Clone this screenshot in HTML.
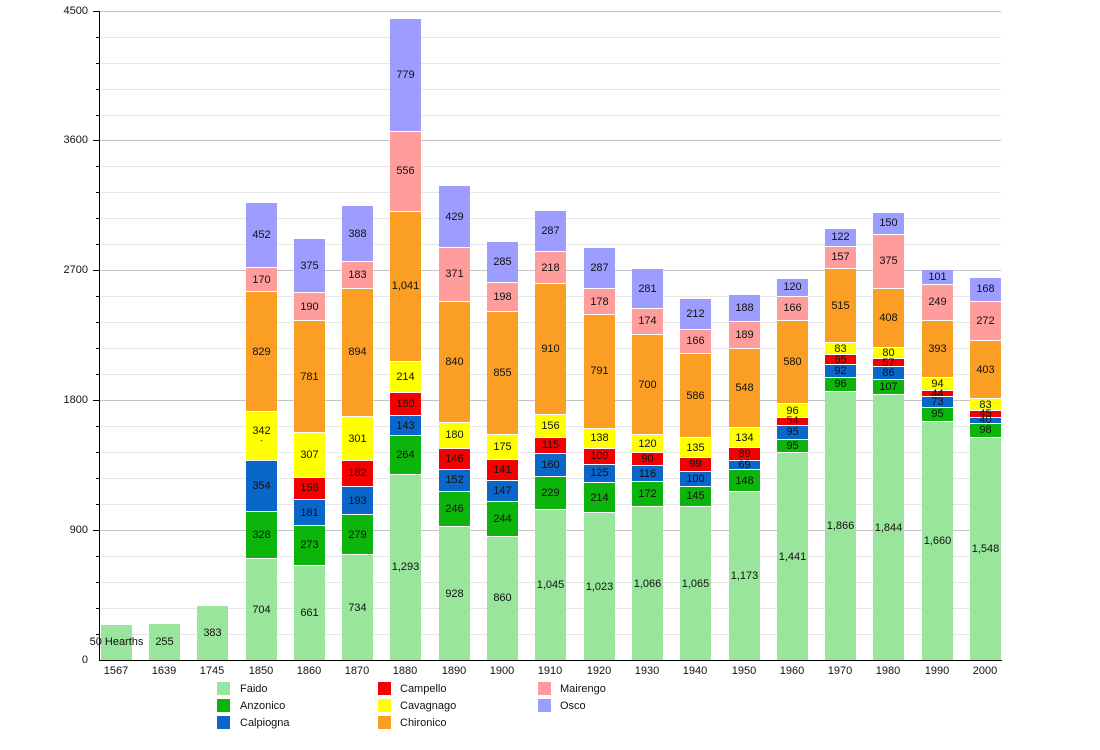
<!DOCTYPE html>
<html><head><meta charset="utf-8"><style>
html,body{margin:0;padding:0;background:#fff}
body{width:1100px;height:750px;position:relative;overflow:hidden;font-family:"Liberation Sans",Arial,sans-serif;font-size:11px;color:#111}
.g{position:absolute;left:100px;width:901px;height:1px;background:#e6e6e6}
.g.m{background:#c4c4c4}
.t{position:absolute;left:96px;width:4px;height:1px;background:#000}
.yl{position:absolute;right:1012px;width:60px;text-align:right;line-height:12px}
.bar{position:absolute;bottom:90px;width:31px;display:flex;flex-direction:column-reverse;--k:0.144222px}
.bar div{box-sizing:border-box;border-top:1px solid #fff;display:flex;align-items:center;justify-content:center;white-space:nowrap;overflow:visible;line-height:10px;min-height:0}
.F{background:#99e59b}.A{background:#0cb40c}.C{background:#0a66c8}.P{background:#f40000}.Y{background:#ffff00}.H{background:#fb9e24}.M{background:#ff9d9d}.O{background:#9d9dff}
.xl{position:absolute;top:665px;width:40px;text-align:center}
.sw{position:absolute;width:13px;height:13px}
.lt{position:absolute;line-height:13px}
</style></head><body>
<!-- gridlines -->
<div class="g m" style="top:11px"></div>
<div class="g" style="top:37px"></div><div class="g" style="top:63px"></div><div class="g" style="top:89px"></div><div class="g" style="top:115px"></div>
<div class="g m" style="top:140px"></div>
<div class="g" style="top:166px"></div><div class="g" style="top:192px"></div><div class="g" style="top:218px"></div><div class="g" style="top:244px"></div>
<div class="g m" style="top:270px"></div>
<div class="g" style="top:296px"></div><div class="g" style="top:322px"></div><div class="g" style="top:348px"></div><div class="g" style="top:374px"></div>
<div class="g m" style="top:400px"></div>
<div class="g" style="top:426px"></div><div class="g" style="top:452px"></div><div class="g" style="top:478px"></div><div class="g" style="top:504px"></div>
<div class="g m" style="top:530px"></div>
<div class="g" style="top:556px"></div><div class="g" style="top:582px"></div><div class="g" style="top:608px"></div><div class="g" style="top:634px"></div>
<!-- ticks -->
<div class="t" style="top:11px;left:93px;width:7px"></div><div class="t" style="top:37px"></div><div class="t" style="top:63px"></div><div class="t" style="top:89px"></div><div class="t" style="top:115px"></div>
<div class="t" style="top:140px;left:93px;width:7px"></div><div class="t" style="top:166px"></div><div class="t" style="top:192px"></div><div class="t" style="top:218px"></div><div class="t" style="top:244px"></div>
<div class="t" style="top:270px;left:93px;width:7px"></div><div class="t" style="top:296px"></div><div class="t" style="top:322px"></div><div class="t" style="top:348px"></div><div class="t" style="top:374px"></div>
<div class="t" style="top:400px;left:93px;width:7px"></div><div class="t" style="top:426px"></div><div class="t" style="top:452px"></div><div class="t" style="top:478px"></div><div class="t" style="top:504px"></div>
<div class="t" style="top:530px;left:93px;width:7px"></div><div class="t" style="top:556px"></div><div class="t" style="top:582px"></div><div class="t" style="top:608px"></div><div class="t" style="top:634px"></div>
<div class="yl" style="top:5px">4500</div>
<div class="yl" style="top:134px">3600</div>
<div class="yl" style="top:264px">2700</div>
<div class="yl" style="top:394px">1800</div>
<div class="yl" style="top:524px">900</div>
<div class="yl" style="top:654px">0</div>

<!-- bars -->
<div class="bar" style="left:101px"><div class="F" style="height:calc(250*var(--k))">50 Hearths</div></div>
<div class="bar" style="left:149px"><div class="F" style="height:calc(255*var(--k))">255</div></div>
<div class="bar" style="left:197px"><div class="F" style="height:calc(383*var(--k))">383</div></div>
<div class="bar" style="left:246px">
<div class="F" style="height:calc(704*var(--k))">704</div><div class="A" style="height:calc(328*var(--k))">328</div><div class="C" style="height:calc(354*var(--k))">354</div><div class="Y" style="height:calc(342*var(--k));flex-direction:column">342<br><span style="font-size:8px">-</span></div><div class="H" style="height:calc(829*var(--k))">829</div><div class="M" style="height:calc(170*var(--k))">170</div><div class="O" style="height:calc(452*var(--k))">452</div></div>
<div class="bar" style="left:294px">
<div class="F" style="height:calc(661*var(--k))">661</div><div class="A" style="height:calc(273*var(--k))">273</div><div class="C" style="height:calc(181*var(--k))">181</div><div class="P" style="height:calc(156*var(--k))">156</div><div class="Y" style="height:calc(307*var(--k))">307</div><div class="H" style="height:calc(781*var(--k))">781</div><div class="M" style="height:calc(190*var(--k))">190</div><div class="O" style="height:calc(375*var(--k))">375</div></div>
<div class="bar" style="left:342px">
<div class="F" style="height:calc(734*var(--k))">734</div><div class="A" style="height:calc(279*var(--k))">279</div><div class="C" style="height:calc(193*var(--k))">193</div><div class="P" style="height:calc(182*var(--k))">182</div><div class="Y" style="height:calc(301*var(--k))">301</div><div class="H" style="height:calc(894*var(--k))">894</div><div class="M" style="height:calc(183*var(--k))">183</div><div class="O" style="height:calc(388*var(--k))">388</div></div>
<div class="bar" style="left:390px">
<div class="F" style="height:calc(1293*var(--k))">1,293</div><div class="A" style="height:calc(264*var(--k))">264</div><div class="C" style="height:calc(143*var(--k))">143</div><div class="P" style="height:calc(160*var(--k))">160</div><div class="Y" style="height:calc(214*var(--k))">214</div><div class="H" style="height:calc(1041*var(--k))">1,041</div><div class="M" style="height:calc(556*var(--k))">556</div><div class="O" style="height:calc(779*var(--k))">779</div></div>
<div class="bar" style="left:439px">
<div class="F" style="height:calc(928*var(--k))">928</div><div class="A" style="height:calc(246*var(--k))">246</div><div class="C" style="height:calc(152*var(--k))">152</div><div class="P" style="height:calc(146*var(--k))">146</div><div class="Y" style="height:calc(180*var(--k))">180</div><div class="H" style="height:calc(840*var(--k))">840</div><div class="M" style="height:calc(371*var(--k))">371</div><div class="O" style="height:calc(429*var(--k))">429</div></div>
<div class="bar" style="left:487px">
<div class="F" style="height:calc(860*var(--k))">860</div><div class="A" style="height:calc(244*var(--k))">244</div><div class="C" style="height:calc(147*var(--k))">147</div><div class="P" style="height:calc(141*var(--k))">141</div><div class="Y" style="height:calc(175*var(--k))">175</div><div class="H" style="height:calc(855*var(--k))">855</div><div class="M" style="height:calc(198*var(--k))">198</div><div class="O" style="height:calc(285*var(--k))">285</div></div>
<div class="bar" style="left:535px">
<div class="F" style="height:calc(1045*var(--k))">1,045</div><div class="A" style="height:calc(229*var(--k))">229</div><div class="C" style="height:calc(160*var(--k))">160</div><div class="P" style="height:calc(115*var(--k))">115</div><div class="Y" style="height:calc(156*var(--k))">156</div><div class="H" style="height:calc(910*var(--k))">910</div><div class="M" style="height:calc(218*var(--k))">218</div><div class="O" style="height:calc(287*var(--k))">287</div></div>
<div class="bar" style="left:584px">
<div class="F" style="height:calc(1023*var(--k))">1,023</div><div class="A" style="height:calc(214*var(--k))">214</div><div class="C" style="height:calc(125*var(--k))">125</div><div class="P" style="height:calc(109*var(--k))">109</div><div class="Y" style="height:calc(138*var(--k))">138</div><div class="H" style="height:calc(791*var(--k))">791</div><div class="M" style="height:calc(178*var(--k))">178</div><div class="O" style="height:calc(287*var(--k))">287</div></div>
<div class="bar" style="left:632px">
<div class="F" style="height:calc(1066*var(--k))">1,066</div><div class="A" style="height:calc(172*var(--k))">172</div><div class="C" style="height:calc(116*var(--k))">116</div><div class="P" style="height:calc(90*var(--k))">90</div><div class="Y" style="height:calc(120*var(--k))">120</div><div class="H" style="height:calc(700*var(--k))">700</div><div class="M" style="height:calc(174*var(--k))">174</div><div class="O" style="height:calc(281*var(--k))">281</div></div>
<div class="bar" style="left:680px">
<div class="F" style="height:calc(1065*var(--k))">1,065</div><div class="A" style="height:calc(145*var(--k))">145</div><div class="C" style="height:calc(100*var(--k))">100</div><div class="P" style="height:calc(99*var(--k))">99</div><div class="Y" style="height:calc(135*var(--k))">135</div><div class="H" style="height:calc(586*var(--k))">586</div><div class="M" style="height:calc(166*var(--k))">166</div><div class="O" style="height:calc(212*var(--k))">212</div></div>
<div class="bar" style="left:729px">
<div class="F" style="height:calc(1173*var(--k))">1,173</div><div class="A" style="height:calc(148*var(--k))">148</div><div class="C" style="height:calc(69*var(--k))">69</div><div class="P" style="height:calc(89*var(--k))">89</div><div class="Y" style="height:calc(134*var(--k))">134</div><div class="H" style="height:calc(548*var(--k))">548</div><div class="M" style="height:calc(189*var(--k))">189</div><div class="O" style="height:calc(188*var(--k))">188</div></div>
<div class="bar" style="left:777px">
<div class="F" style="height:calc(1441*var(--k))">1,441</div><div class="A" style="height:calc(95*var(--k))">95</div><div class="C" style="height:calc(95*var(--k))">95</div><div class="P" style="height:calc(54*var(--k))">54</div><div class="Y" style="height:calc(96*var(--k))">96</div><div class="H" style="height:calc(580*var(--k))">580</div><div class="M" style="height:calc(166*var(--k))">166</div><div class="O" style="height:calc(120*var(--k))">120</div></div>
<div class="bar" style="left:825px">
<div class="F" style="height:calc(1866*var(--k))">1,866</div><div class="A" style="height:calc(96*var(--k))">96</div><div class="C" style="height:calc(92*var(--k))">92</div><div class="P" style="height:calc(65*var(--k))">65</div><div class="Y" style="height:calc(83*var(--k))">83</div><div class="H" style="height:calc(515*var(--k))">515</div><div class="M" style="height:calc(157*var(--k))">157</div><div class="O" style="height:calc(122*var(--k))">122</div></div>
<div class="bar" style="left:873px">
<div class="F" style="height:calc(1844*var(--k))">1,844</div><div class="A" style="height:calc(107*var(--k))">107</div><div class="C" style="height:calc(86*var(--k))">86</div><div class="P" style="height:calc(57*var(--k))">57</div><div class="Y" style="height:calc(80*var(--k))">80</div><div class="H" style="height:calc(408*var(--k))">408</div><div class="M" style="height:calc(375*var(--k))">375</div><div class="O" style="height:calc(150*var(--k))">150</div></div>
<div class="bar" style="left:922px">
<div class="F" style="height:calc(1660*var(--k))">1,660</div><div class="A" style="height:calc(95*var(--k))">95</div><div class="C" style="height:calc(73*var(--k))">73</div><div class="P" style="height:calc(44*var(--k))">44</div><div class="Y" style="height:calc(94*var(--k))">94</div><div class="H" style="height:calc(393*var(--k))">393</div><div class="M" style="height:calc(249*var(--k))">249</div><div class="O" style="height:calc(101*var(--k))">101</div></div>
<div class="bar" style="left:970px">
<div class="F" style="height:calc(1548*var(--k))">1,548</div><div class="A" style="height:calc(98*var(--k))">98</div><div class="C" style="height:calc(40*var(--k))">40</div><div class="P" style="height:calc(45*var(--k))">45</div><div class="Y" style="height:calc(83*var(--k))">83</div><div class="H" style="height:calc(403*var(--k))">403</div><div class="M" style="height:calc(272*var(--k))">272</div><div class="O" style="height:calc(168*var(--k))">168</div></div>

<!-- axes -->
<div style="position:absolute;left:99px;top:11px;width:1px;height:650px;background:#000"></div>
<div style="position:absolute;left:99px;top:660px;width:903px;height:1px;background:#000"></div>

<!-- x labels -->
<div class="xl" style="left:96px">1567</div><div class="xl" style="left:144px">1639</div><div class="xl" style="left:192px">1745</div><div class="xl" style="left:241px">1850</div><div class="xl" style="left:289px">1860</div><div class="xl" style="left:337px">1870</div><div class="xl" style="left:385px">1880</div><div class="xl" style="left:434px">1890</div><div class="xl" style="left:482px">1900</div><div class="xl" style="left:530px">1910</div><div class="xl" style="left:579px">1920</div><div class="xl" style="left:627px">1930</div><div class="xl" style="left:675px">1940</div><div class="xl" style="left:724px">1950</div><div class="xl" style="left:772px">1960</div><div class="xl" style="left:820px">1970</div><div class="xl" style="left:868px">1980</div><div class="xl" style="left:917px">1990</div><div class="xl" style="left:965px">2000</div>

<!-- legend -->
<div class="sw F" style="left:217px;top:682px"></div><div class="lt" style="left:240px;top:683px">Faido</div>
<div class="sw A" style="left:217px;top:699px"></div><div class="lt" style="left:240px;top:700px">Anzonico</div>
<div class="sw C" style="left:217px;top:716px"></div><div class="lt" style="left:240px;top:717px">Calpiogna</div>
<div class="sw P" style="left:378px;top:682px"></div><div class="lt" style="left:400px;top:683px">Campello</div>
<div class="sw Y" style="left:378px;top:699px"></div><div class="lt" style="left:400px;top:700px">Cavagnago</div>
<div class="sw H" style="left:378px;top:716px"></div><div class="lt" style="left:400px;top:717px">Chironico</div>
<div class="sw M" style="left:538px;top:682px"></div><div class="lt" style="left:560px;top:683px">Mairengo</div>
<div class="sw O" style="left:538px;top:699px"></div><div class="lt" style="left:560px;top:700px">Osco</div>
</body></html>
